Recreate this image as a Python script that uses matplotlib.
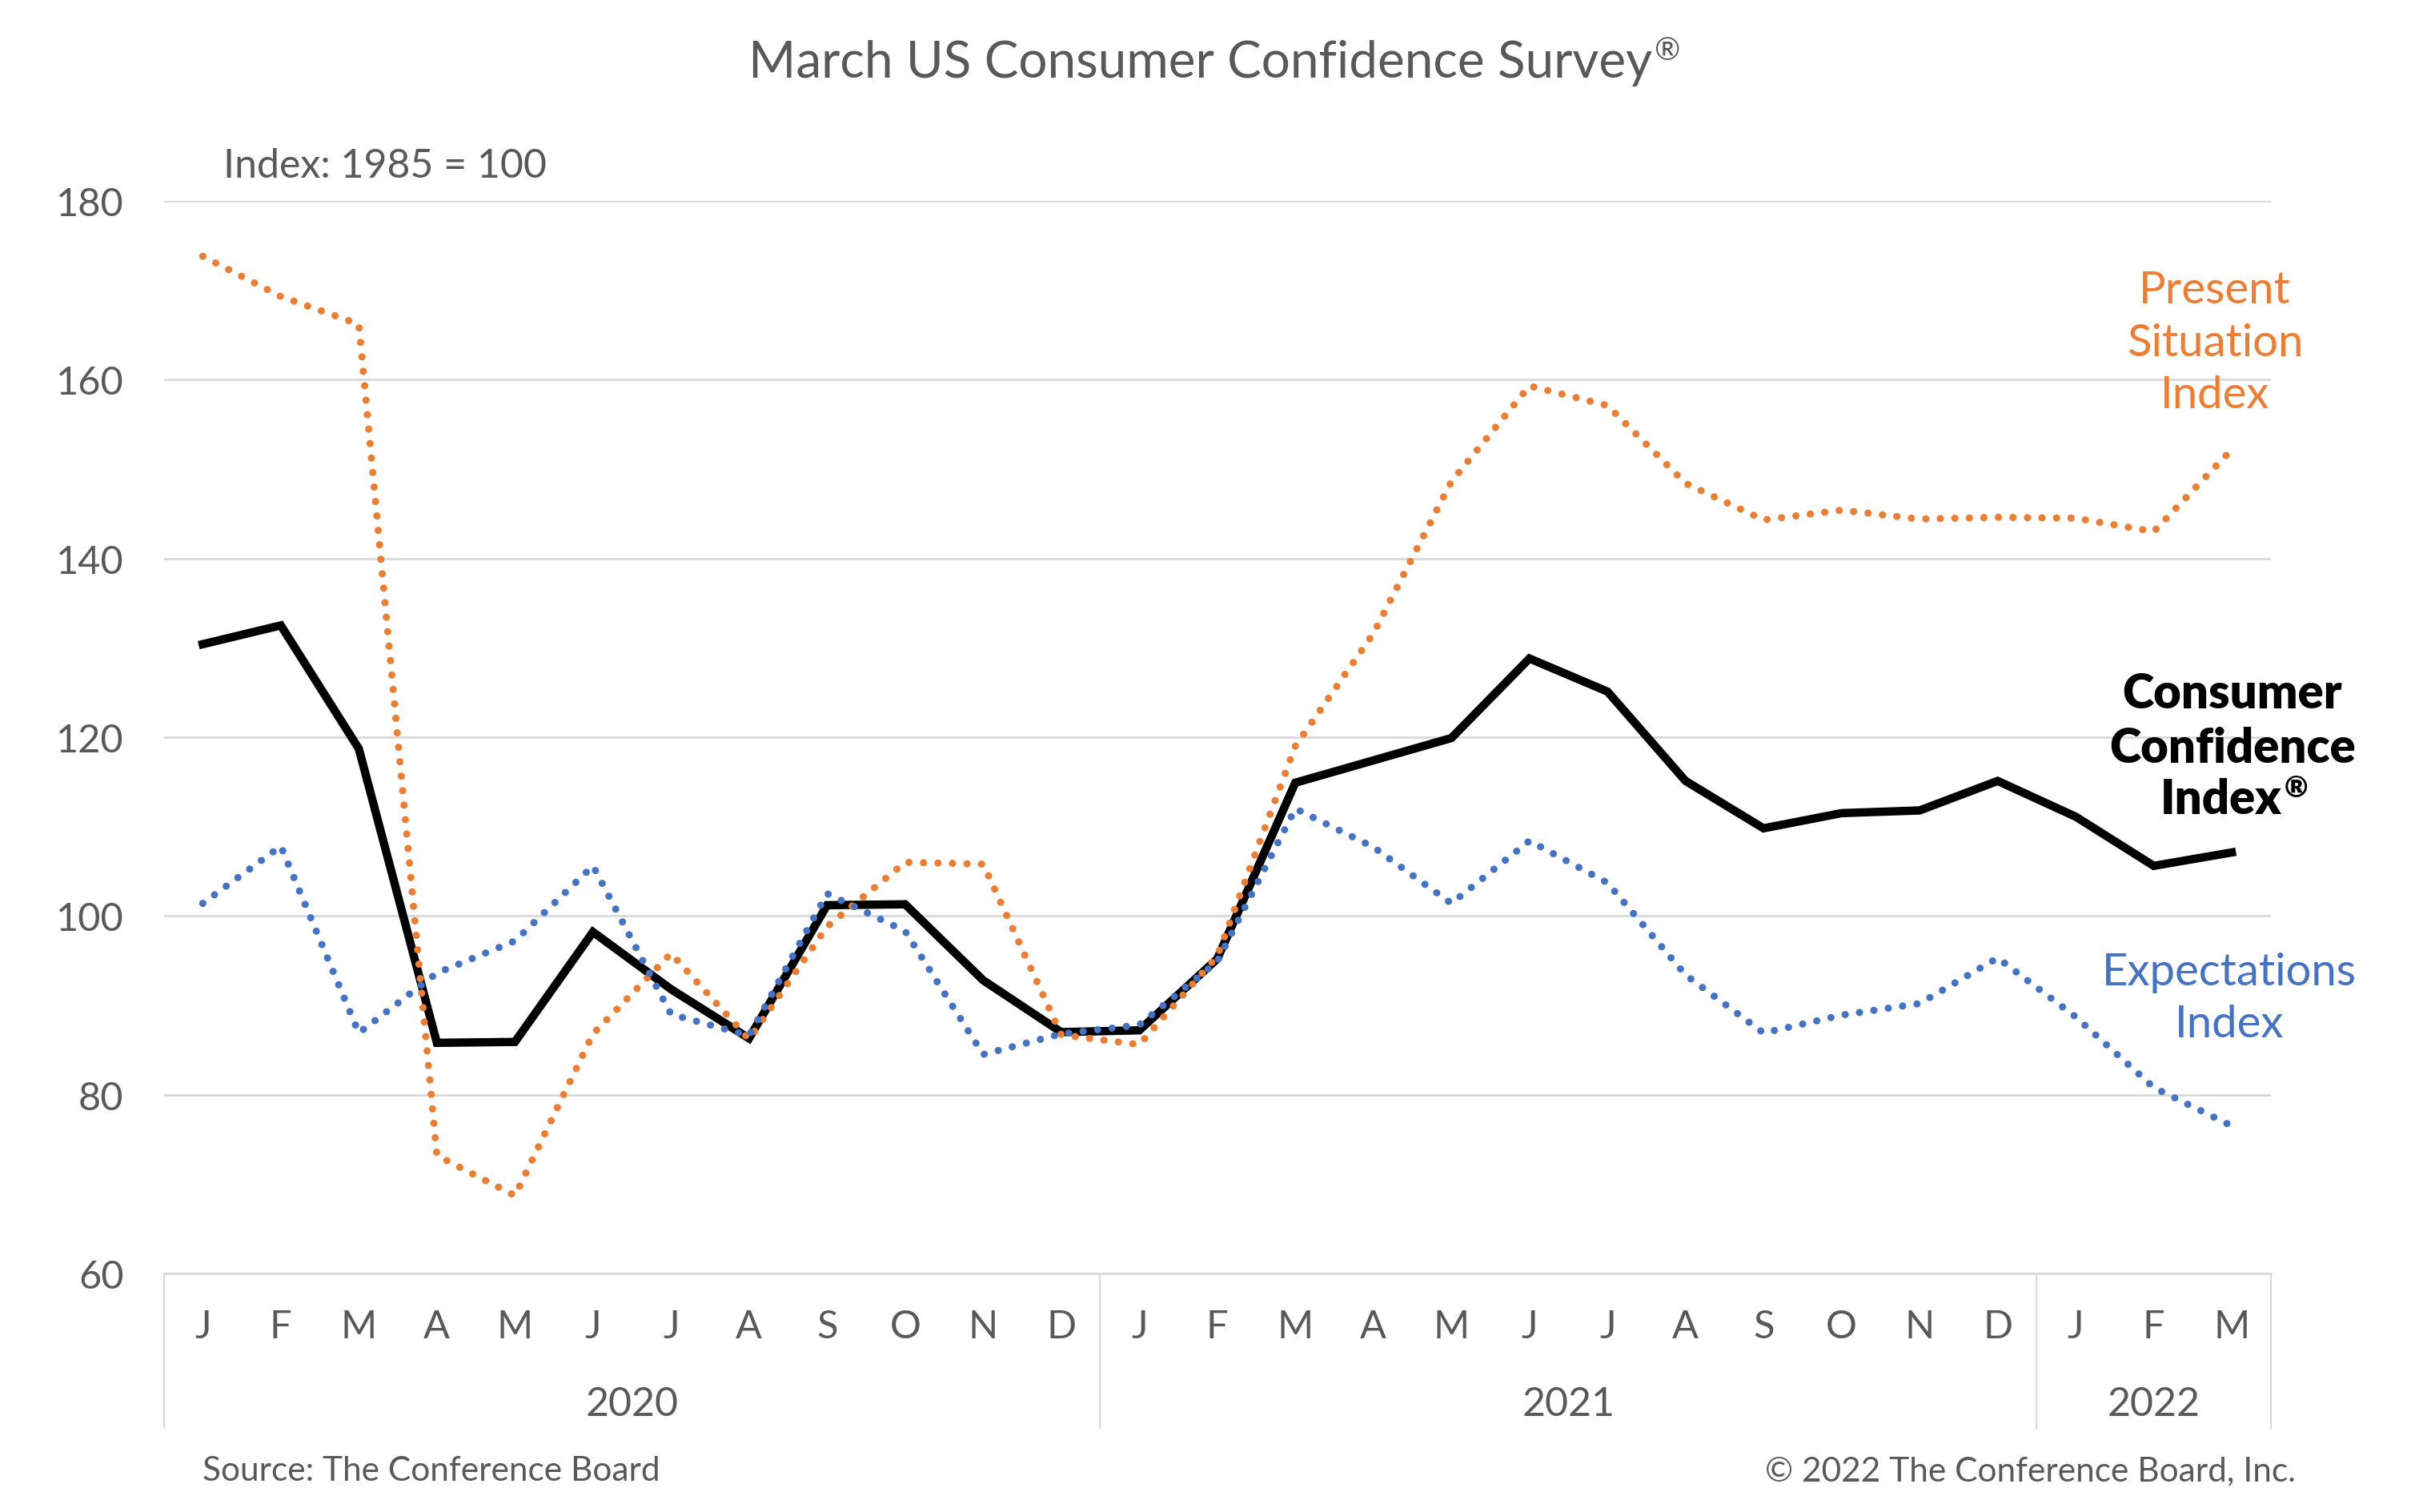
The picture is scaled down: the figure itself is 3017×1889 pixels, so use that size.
import numpy as np
import matplotlib
matplotlib.use("Agg")
import matplotlib.pyplot as plt

# monthly values, Jan 2020 - Mar 2022
months = ["J", "F", "M", "A", "M", "J", "J", "A", "S", "O", "N", "D",
          "J", "F", "M", "A", "M", "J", "J", "A", "S", "O", "N", "D",
          "J", "F", "M"]
years = ["2020", "2021", "2022"]
year_len = [12, 12, 3]

consumer_conf = [130.4, 132.5, 118.7, 85.8, 85.9, 98.2, 91.8, 86.3, 101.2, 101.3, 92.8, 87.0,
                 87.2, 95.2, 114.9, 117.4, 119.9, 128.8, 125.1, 115.1, 109.8, 111.5, 111.8, 115.1,
                 111.1, 105.6, 107.1]
present_sit = [173.8, 169.3, 166.2, 73.2, 68.7, 86.8, 95.8, 86.2, 98.8, 106.0, 105.8, 86.7,
               85.6, 95.5, 119.0, 131.6, 148.6, 159.3, 157.1, 148.4, 144.3, 145.4, 144.4, 144.6,
               144.5, 143.0, 152.2]
expectations = [101.4, 107.8, 86.9, 93.6, 97.2, 105.6, 89.0, 86.6, 102.5, 98.3, 84.5, 86.8,
                87.8, 94.9, 112.0, 107.7, 101.4, 108.4, 103.7, 93.4, 86.9, 88.9, 90.2, 95.3,
                88.7, 80.8, 76.5]

GRAY = "#595959"
GRID = "#D9D9D9"
ORANGE = "#ED7D31"
BLUE = "#4472C4"

plt.rcParams["font.family"] = ["Lato", "DejaVu Sans"]

fig = plt.figure(figsize=(30.17, 18.9), dpi=100)
ax = fig.add_axes([0.0678, 0.1577, 0.8725, 0.7090])

x = np.arange(len(months))
dots = (0, (0.01, 2.0))
ax.plot(x, consumer_conf, color="black", lw=7.5, solid_joinstyle="miter", zorder=3)
ax.plot(x, present_sit, color=ORANGE, lw=6.5, linestyle=dots,
        dash_capstyle="round", zorder=4)
ax.plot(x, expectations, color=BLUE, lw=6.5, linestyle=dots,
        dash_capstyle="round", zorder=5)

ax.set_xlim(-0.5, len(months) - 0.5)
ax.set_ylim(60, 180)
ax.set_yticks(np.arange(60, 181, 20))
ax.yaxis.grid(True, color=GRID, lw=2)
ax.set_axisbelow(True)
ax.tick_params(axis="y", length=0, labelsize=35, labelcolor=GRAY, pad=36)
ax.set_xticks([])
for s in ["top", "right", "left"]:
    ax.spines[s].set_visible(False)
ax.spines["bottom"].set_color(GRID)
ax.spines["bottom"].set_linewidth(2)

# category axis: months, years, separators
trans = ax.get_xaxis_transform()
for i, m in enumerate(months):
    ax.text(i, -0.049, m, transform=trans, ha="center", va="center",
            fontsize=35, color=GRAY)
start = 0
edges = [-0.5]
for y, n in zip(years, year_len):
    ax.text(start + (n - 1) / 2, -0.122, y, transform=trans, ha="center",
            va="center", fontsize=36, color=GRAY)
    start += n
    edges.append(start - 0.5)
for e in edges:
    ax.plot([e, e], [0, -0.144], transform=trans, color=GRID, lw=1.5,
            clip_on=False)

# series labels
fig.text(0.9171, 0.773, "Present\nSituation\nIndex", color=ORANGE, fontsize=40.5,
         ha="center", va="center", linespacing=1.35)
fig.text(0.9244, 0.523, "Consumer\nConfidence", color="black", fontsize=43,
         fontweight="heavy", ha="center", va="center", linespacing=1.3)
idx = fig.text(0.9198, 0.4709, "Index", color="black", fontsize=43,
               fontweight="heavy", ha="center", va="center")
fig.text(0.9231, 0.3397, "Expectations\nIndex", color=BLUE, fontsize=40.5,
         ha="center", va="center", linespacing=1.35)

title = fig.text(0.497, 0.958, "March US Consumer Confidence Survey", ha="center",
                 va="center", fontsize=46, color=GRAY)
fig.canvas.draw()
bb = title.get_window_extent().transformed(fig.transFigure.inverted())
fig.text(bb.x1 + 0.001, 0.966, "®", ha="left", va="center", fontsize=28, color=GRAY)
ib = idx.get_window_extent().transformed(fig.transFigure.inverted())
fig.text(ib.x1 + 0.001, 0.4785, "®", ha="left", va="center", fontsize=26,
         fontweight="heavy", color="black")

fig.text(0.0925, 0.89, "Index: 1985 = 100", ha="left", va="center",
         fontsize=36, color=GRAY)
fig.text(0.0839, 0.0275, "Source: The Conference Board", ha="left",
         va="center", fontsize=30.5, color=GRAY)
fig.text(0.9506, 0.0275, "© 2022 The Conference Board, Inc.", ha="right",
         va="center", fontsize=30.5, color=GRAY)

fig.savefig("out.png", dpi=100, facecolor="white")
